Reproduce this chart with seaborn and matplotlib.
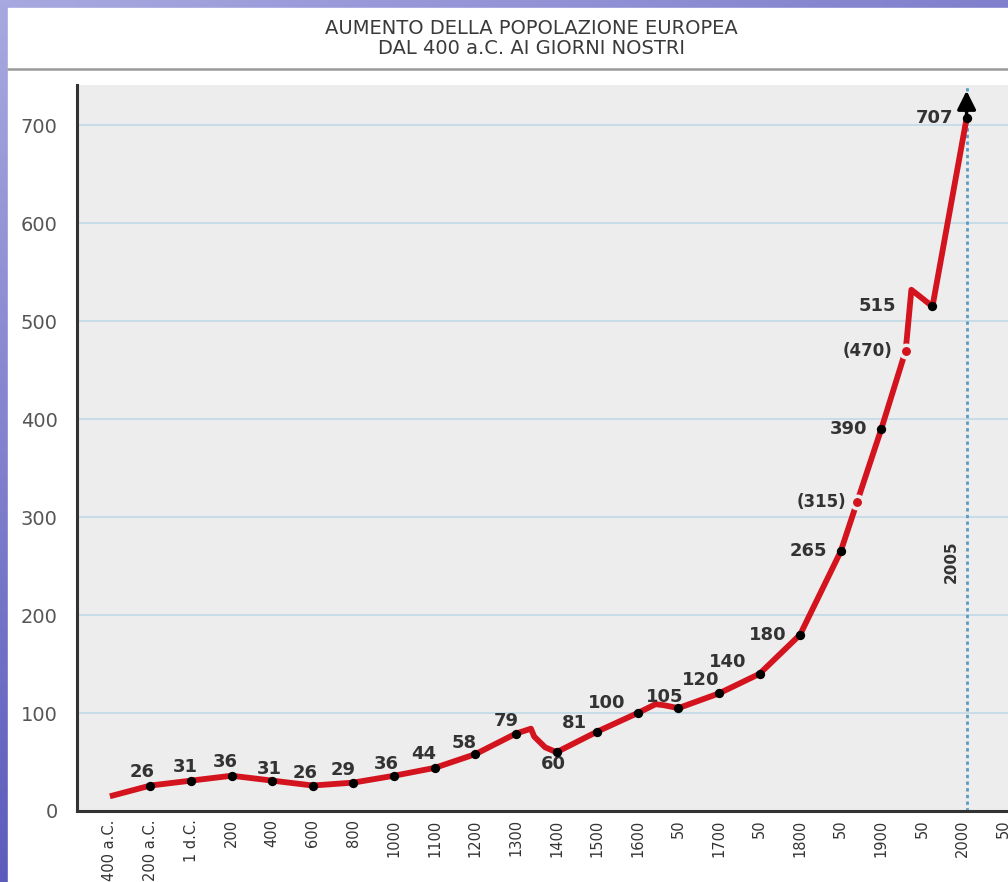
import numpy as np
import pandas as pd
import seaborn as sns
import matplotlib.pyplot as plt
from matplotlib.patches import Rectangle

# axis categories (unevenly spaced years shown at even steps)
tick_years = [-400, -200, 1, 200, 400, 600, 800, 1000, 1100, 1200, 1300, 1400,
              1500, 1600, 1650, 1700, 1750, 1800, 1850, 1900, 1950, 2000, 2050]
tick_labels = ['400 a.C.', '200 a.C.', '1 d.C.', '200', '400', '600', '800', '1000',
               '1100', '1200', '1300', '1400', '1500', '1600', '50', '1700', '50',
               '1800', '50', '1900', '50', '2000', '50']

# population curve (millions)
years = [-400, -200, 1, 200, 400, 600, 800, 1000, 1100, 1200, 1300, 1337, 1345,
         1372, 1400, 1500, 1600, 1622, 1632, 1650, 1700, 1750, 1800, 1850, 1870,
         1900, 1930, 1937, 1963, 2005]
population = [15, 26, 31, 36, 31, 26, 29, 36, 44, 58, 79, 84, 76,
              65, 60, 81, 100, 109, 108, 105, 120, 140, 180, 265, 315,
              390, 470, 532, 515, 707]

# labelled census points
known_years = [-200, 1, 200, 400, 600, 800, 1000, 1100, 1200, 1300, 1400, 1500,
               1600, 1650, 1700, 1750, 1800, 1850, 1900, 1963, 2005]
known_values = [26, 31, 36, 31, 26, 29, 36, 44, 58, 79, 60, 81,
                100, 105, 120, 140, 180, 265, 390, 515, 707]
known_labels = ['26', '31', '36', '31', '26', '29', '36', '44', '58', '79', '60', '81',
                '100', '105', '120', '140', '180', '265', '390', '515', '707']

# estimated points
est_years = [1870, 1930]
est_values = [315, 470]
est_labels = ['(315)', '(470)']

year_marker = 2005

# label offsets in pixels (dx, dy, horizontal alignment)
known_offsets = [(-8, 14, 'center'), (-6, 14, 'center'), (-6, 14, 'center'),
                 (-3, 12, 'center'), (-8, 13, 'center'), (-10, 13, 'center'),
                 (-8, 12, 'center'), (-11, 14, 'center'), (-11, 11, 'center'),
                 (-10, 13, 'center'), (-3, -12, 'center'), (-23, 9, 'center'),
                 (-31, 10, 'center'), (-14, 11, 'center'), (-18, 13, 'center'),
                 (-32, 12, 'center'), (-14, 0, 'right'), (-14, 0, 'right'),
                 (-14, 0, 'right'), (-36, 0, 'right'), (-13, 0, 'right')]
est_offsets = [(-11, 0, 'right'), (-13, 0, 'right')]

positions = np.arange(len(tick_years))


def to_pos(y):
    return np.interp(y, tick_years, positions)


line_df = pd.DataFrame({'x': to_pos(years), 'pop': population})
known_df = pd.DataFrame({'x': to_pos(known_years), 'pop': known_values})
est_df = pd.DataFrame({'x': to_pos(est_years), 'pop': est_values})

sns.set_style('white', {'axes.facecolor': '#ededed'})
plt.rcParams['font.family'] = ['DejaVu Sans']

fig = plt.figure(figsize=(10.08, 8.82), dpi=100)

# blue slide background with white page
bg = fig.add_axes([0, 0, 1, 1], zorder=-10)
gx, gy = np.meshgrid(np.linspace(0, 1, 200), np.linspace(0, 1, 200))
t = np.clip(0.35 * gx + 0.65 * gy, 0, 1)
light = np.array([0.66, 0.66, 0.88])
dark = np.array([0.20, 0.20, 0.66])
grad = light[None, None, :] * (1 - t[..., None]) + dark[None, None, :] * t[..., None]
bg.imshow(grad, extent=[0, 1, 0, 1], aspect='auto', origin='upper')
bg.add_patch(Rectangle((8 / 1008, 0), 1, 1 - 8 / 882, color='white'))
bg.plot([8 / 1008, 1], [1 - 69 / 882, 1 - 69 / 882], color='#9a9a9a', lw=1.8)
bg.set_xlim(0, 1)
bg.set_ylim(0, 1)
bg.axis('off')

fig.text(0.527, 1 - 29 / 882, 'AUMENTO DELLA POPOLAZIONE EUROPEA', ha='center', va='center',
         fontsize=14, color='#3a3a3a')
fig.text(0.527, 1 - 49 / 882, 'DAL 400 a.C. AI GIORNI NOSTRI', ha='center', va='center',
         fontsize=14, color='#3a3a3a')

ax = fig.add_axes([77 / 1008, 71 / 882, 931 / 1008, 726 / 882])

for v in range(100, 800, 100):
    ax.axhline(v, color='#c3dbe6', lw=1.3, zorder=0)

x_marker = to_pos(year_marker)
ax.axvline(x_marker, color='#5a9bc6', ls=(0, (1.2, 1.2)), lw=2, zorder=1)

red = '#d3141f'
sns.lineplot(data=line_df, x='x', y='pop', color=red, lw=4.2, ax=ax, sort=False,
             zorder=3, solid_capstyle='butt')
sns.scatterplot(data=known_df, x='x', y='pop', color='black', s=45, marker='o',
                linewidth=0, ax=ax, zorder=4)
sns.scatterplot(data=est_df, x='x', y='pop', color=red, s=80, marker='o',
                edgecolor='#ededed', linewidth=2.5, ax=ax, zorder=4)

ax.annotate('', xy=(x_marker, 738), xytext=(x_marker, 707),
            arrowprops=dict(arrowstyle='-|>', color='black', lw=2.5, mutation_scale=28),
            zorder=5)

for xv, yv, txt, (dx, dy, ha) in zip(known_df['x'], known_values, known_labels, known_offsets):
    ax.annotate(txt, (xv, yv), xytext=(dx, dy), textcoords='offset pixels', ha=ha,
                va='center', fontsize=13, fontweight='bold', color='#333333')
for xv, yv, txt, (dx, dy, ha) in zip(est_df['x'], est_values, est_labels, est_offsets):
    ax.annotate(txt, (xv, yv), xytext=(dx, dy), textcoords='offset pixels', ha=ha,
                va='center', fontsize=12, fontweight='bold', color='#333333')

ax.annotate(str(year_marker), (x_marker, 254), xytext=(-15, 0), textcoords='offset pixels',
            rotation=90, ha='center', va='center', fontsize=11, fontweight='bold',
            color='#333333')

ax.set_xlim(-0.81, 22.12)
ax.set_ylim(0, 741)
ax.set_xticks(positions)
ax.set_xticklabels(tick_labels, rotation=90, fontsize=10.5, color='#333333')
ax.set_yticks(range(0, 800, 100))
ax.set_yticklabels([str(v) for v in range(0, 800, 100)], fontsize=14, color='#555555')
ax.tick_params(axis='x', direction='in', length=8, width=1, color='#666666', pad=6)
ax.tick_params(axis='y', length=0, pad=14)
ax.set_xlabel('')
ax.set_ylabel('')

for side in ['top', 'right']:
    ax.spines[side].set_visible(False)
for side in ['left', 'bottom']:
    ax.spines[side].set_color('#333333')
    ax.spines[side].set_linewidth(2.2)

fig.savefig('out.png', dpi=100)
